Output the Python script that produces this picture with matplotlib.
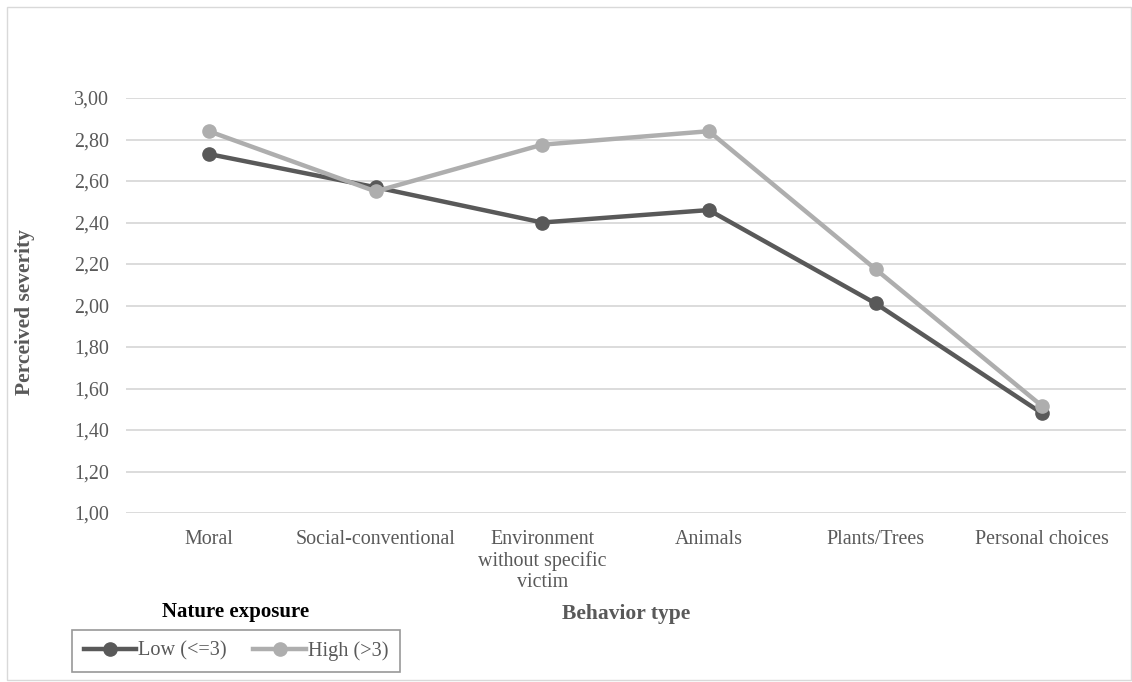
import matplotlib
matplotlib.use('Agg')
import matplotlib.pyplot as plt
from matplotlib.patches import Rectangle

# ---------------------------------------------------------------------------
# Data
# ---------------------------------------------------------------------------
categories = ['Moral', 'Social-conventional', 'Environment\nwithout specific\nvictim',
              'Animals', 'Plants/Trees', 'Personal choices']
low_vals  = [2.73, 2.57, 2.40, 2.46, 2.01, 1.48]
high_vals = [2.84, 2.55, 2.775, 2.84, 2.175, 1.515]
y_ticks   = [1.0, 1.2, 1.4, 1.6, 1.8, 2.0, 2.2, 2.4, 2.6, 2.8, 3.0]

LOW_COL  = '#595959'
HIGH_COL = '#AEAEAE'
TXT_COL  = '#595959'

plt.rcParams['font.family'] = ['Liberation Serif', 'DejaVu Serif']

fig = plt.figure(figsize=(11.32, 6.82), dpi=100)
ax = fig.add_axes([0.1109, 0.2478, 0.8834, 0.6085])

x = list(range(len(categories)))
ax.plot(x, low_vals, color=LOW_COL, lw=3.2, marker='o', ms=9.5,
        label='Low (<=3)', zorder=3)
ax.plot(x, high_vals, color=HIGH_COL, lw=3.2, marker='o', ms=9.5,
        label='High (>3)', zorder=4)

ax.set_xlim(-0.5, len(categories) - 0.5)
ax.set_ylim(1.0, 3.0)
ax.set_yticks(y_ticks)
ax.set_yticklabels([f'{v:.2f}'.replace('.', ',') for v in y_ticks])
ax.set_xticks(x)
ax.set_xticklabels(categories, linespacing=1.15)
ax.tick_params(length=0, labelsize=14.4, labelcolor=TXT_COL)
ax.tick_params(axis='x', pad=12)
ax.tick_params(axis='y', pad=12)
ax.grid(axis='y', color='#D9D9D9', lw=1.3)
ax.set_axisbelow(True)
for s in ax.spines.values():
    s.set_visible(False)

# axis titles
fig.text(25 / 1132, 1 - 312 / 682, 'Perceived severity', rotation=90,
         ha='center', va='center', fontsize=15.5, fontweight='bold', color=TXT_COL)
fig.text(626 / 1132, 1 - 614 / 682, 'Behavior type', ha='center', va='center',
         fontsize=15.5, fontweight='bold', color=TXT_COL)

# legend title sits above the legend box
fig.text(236 / 1132, 1 - 612 / 682, 'Nature exposure', ha='center', va='center',
         fontsize=15, fontweight='bold', color='black')
leg = fig.legend(loc='center', bbox_to_anchor=(236 / 1132, 1 - 651 / 682),
                 ncol=2, fontsize=14.6, frameon=True, fancybox=False,
                 edgecolor='#7F7F7F', handlelength=2.6, handletextpad=0.1,
                 columnspacing=1.3, borderpad=0.55, borderaxespad=0,
                 labelcolor=TXT_COL)
leg.get_frame().set_linewidth(1.2)

# outer chart border
fig.patches.append(Rectangle((7 / 1132, 2 / 682), 1 - 8 / 1132, 1 - 9 / 682,
                             transform=fig.transFigure, fill=False,
                             edgecolor='#D9D9D9', lw=1))

fig.savefig('out.png', dpi=100)
